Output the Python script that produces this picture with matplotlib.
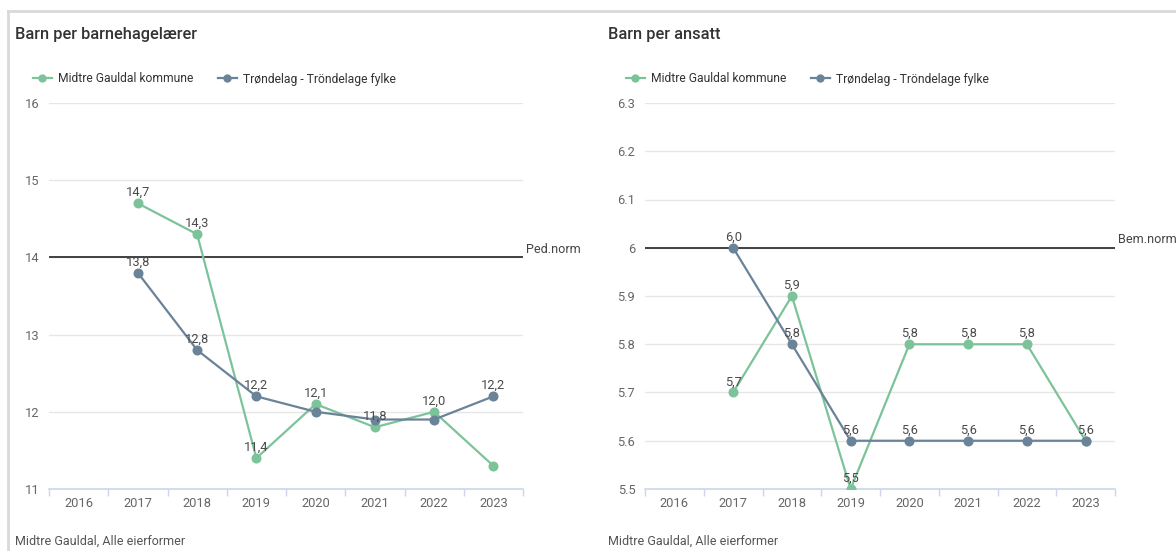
import numpy as np
import matplotlib
matplotlib.use('Agg')
import matplotlib.pyplot as plt
from matplotlib.lines import Line2D
from matplotlib.ticker import FuncFormatter

plt.rcParams['font.family'] = ['Roboto', 'DejaVu Sans']

# data
years = ['2016', '2017', '2018', '2019', '2020', '2021', '2022', '2023']
series_names = ['Midtre Gauldal kommune', 'Trøndelag - Tröndelage fylke']

# Barn per barnehagelærer
laerer_midtre = [np.nan, 14.7, 14.3, 11.4, 12.1, 11.8, 12.0, 11.3]
laerer_fylke = [np.nan, 13.8, 12.8, 12.2, 12.0, 11.9, 11.9, 12.2]
laerer_midtre_lbl = [False, True, True, True, True, True, True, False]
laerer_fylke_lbl = [False, True, True, True, False, False, False, True]
laerer_norm = 14

# Barn per ansatt
ansatt_midtre = [np.nan, 5.7, 5.9, 5.5, 5.8, 5.8, 5.8, 5.6]
ansatt_fylke = [np.nan, 6.0, 5.8, 5.6, 5.6, 5.6, 5.6, 5.6]
ansatt_midtre_lbl = [False, True, True, True, True, True, True, False]
ansatt_fylke_lbl = [False, True, True, True, True, True, True, True]
ansatt_norm = 6

GREEN = '#7cc39a'
BLUE = '#6a8398'
TXT = '#666666'
LBL = '#4a4a4a'
FS = 9.3


def draw_panel(fig, rect, title, midtre, fylke, m_lbl, f_lbl, yticks, norm, norm_text, title_x):
	ax = fig.add_axes(rect)
	x = np.arange(len(years))
	ax.plot(x, midtre, color=GREEN, lw=1.6, marker='o', ms=6.2, zorder=3, label=series_names[0])
	ax.plot(x, fylke, color=BLUE, lw=1.6, marker='o', ms=6.2, zorder=4, label=series_names[1])
	ax.axhline(norm, color='#333333', lw=1.3, zorder=2)
	ax.annotate(norm_text, xy=(1, norm), xycoords=('axes fraction', 'data'), xytext=(2, 1),
		textcoords='offset points', ha='left', va='bottom', fontsize=9.1, color='#444444',
		annotation_clip=False)

	for vals, flags in ((midtre, m_lbl), (fylke, f_lbl)):
		for i, (v, f) in enumerate(zip(vals, flags)):
			if f and not np.isnan(v):
				ax.annotate('{:.1f}'.format(v).replace('.', ','), xy=(i, v), xytext=(0, 3),
					textcoords='offset points', ha='center', va='bottom', fontsize=FS,
					color=LBL, zorder=6)

	ax.set_xlim(-0.5, len(years) - 0.5)
	ax.set_ylim(yticks[0], yticks[-1])
	ax.set_yticks(yticks)
	ax.yaxis.set_major_formatter(FuncFormatter(lambda v, p: '{:g}'.format(round(v, 2))))
	ax.set_xticks(x)
	ax.set_xticklabels(years)
	ax.set_xticks(np.arange(-0.5, len(years)), minor=True)
	ax.tick_params(axis='x', which='major', length=0, pad=6, labelsize=FS, labelcolor=TXT)
	ax.tick_params(axis='x', which='minor', length=5, color='#ccd6eb', width=1)
	ax.tick_params(axis='y', length=0, pad=7, labelsize=FS, labelcolor=TXT)
	ax.grid(axis='y', color='#e6e6e6', lw=1)
	ax.set_axisbelow(True)
	for s in ('top', 'right', 'left'):
		ax.spines[s].set_visible(False)
	ax.spines['bottom'].set_color('#ccd6eb')
	ax.spines['bottom'].set_linewidth(1.2)

	fig.text(title_x, 1 - 35 / 551., title, fontsize=11.8, fontweight='medium', color='#333333',
		ha='left', va='center')
	fig.text(title_x, 1 - 541 / 551., 'Midtre Gauldal, Alle eierformer', fontsize=9,
		color='#555555', ha='left', va='center')
	ax.legend(loc='center left', bbox_to_anchor=(title_x + 0.015, 1 - 79 / 551.),
		bbox_transform=fig.transFigure, ncol=2, frameon=False, fontsize=8.7,
		handlelength=1.6, handletextpad=0.5, columnspacing=2.0, markerscale=0.8,
		labelcolor='#333333', borderaxespad=0, borderpad=0)
	return ax


def main():
	fig = plt.figure(figsize=(11.76, 5.51), dpi=100, facecolor='white')

	draw_panel(fig, [49 / 1176., 1 - 489 / 551., 474 / 1176., 386 / 551.], 'Barn per barnehagelærer',
		laerer_midtre, laerer_fylke, laerer_midtre_lbl, laerer_fylke_lbl,
		[11, 12, 13, 14, 15, 16], laerer_norm, 'Ped.norm', 15 / 1176.)
	draw_panel(fig, [645 / 1176., 1 - 489 / 551., 470 / 1176., 386 / 551.], 'Barn per ansatt',
		ansatt_midtre, ansatt_fylke, ansatt_midtre_lbl, ansatt_fylke_lbl,
		[5.5, 5.6, 5.7, 5.8, 5.9, 6.0, 6.1, 6.2, 6.3], ansatt_norm, 'Bem.norm', 608 / 1176.)

	# card border
	fig.add_artist(Line2D([8 / 1176., 1], [1 - 11 / 551.] * 2, transform=fig.transFigure,
		color='#d9d9d9', lw=2))
	fig.add_artist(Line2D([8 / 1176.] * 2, [0, 1 - 11 / 551.], transform=fig.transFigure,
		color='#d9d9d9', lw=2))

	plt.savefig('out.png', dpi=100, facecolor='white')


if __name__ == '__main__':
	main()
